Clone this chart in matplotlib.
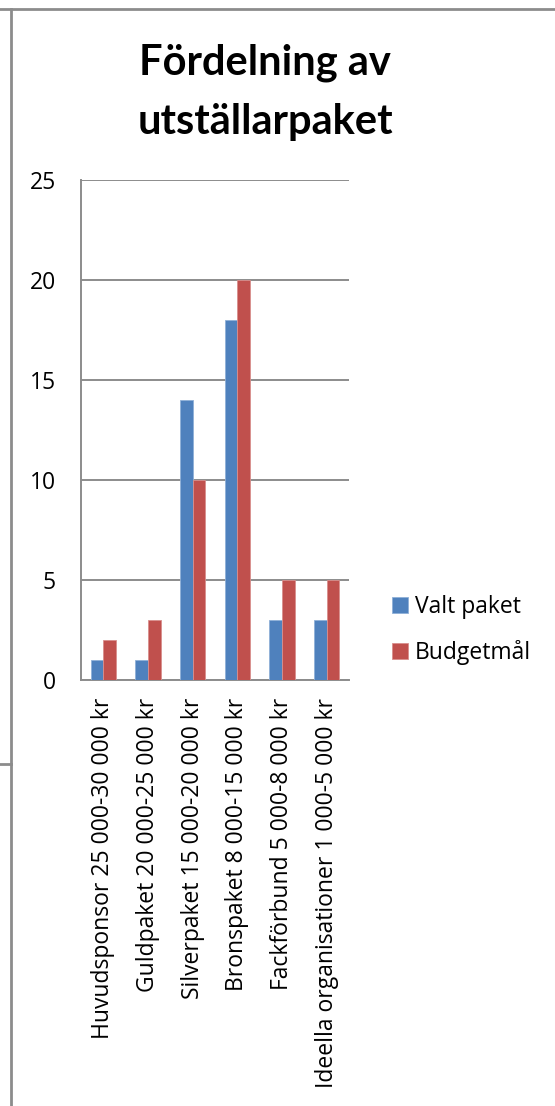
import numpy as np
import matplotlib.pyplot as plt
from matplotlib.lines import Line2D

# Data
kategorier = ['Huvudsponsor 25 000-30 000 kr', 'Guldpaket 20 000-25 000 kr',
              'Silverpaket 15 000-20 000 kr', 'Bronspaket 8 000-15 000 kr',
              'Fackförbund 5 000-8 000 kr', 'Ideella organisationer 1 000-5 000 kr']
valt_paket = [1, 1, 14, 18, 3, 3]
budgetmal = [2, 3, 10, 20, 5, 5]
yticks = [0, 5, 10, 15, 20, 25]

plt.rcParams['font.family'] = ['Open Sans', 'DejaVu Sans']

W, H = 555, 1106
fig = plt.figure(figsize=(W / 100, H / 100), dpi=100)
ax = fig.add_axes([81 / W, 1 - 680 / H, 268 / W, 500 / H])

x = np.arange(len(kategorier))
bw = 1 / 3.5
ax.bar(x - bw / 2, valt_paket, bw, color='#4F81BD', edgecolor='#8fb0d8', linewidth=0.6,
       label='Valt paket', zorder=3)
ax.bar(x + bw / 2, budgetmal, bw, color='#C0504D', edgecolor='#d98f8d', linewidth=0.6,
       label='Budgetmål', zorder=3)

ax.set_xlim(-0.5, len(kategorier) - 0.5)
ax.set_ylim(0, 25)
ax.set_yticks(yticks)
ax.yaxis.grid(True, color='#8c8c8c', linewidth=1.4, zorder=0)
ax.set_xticks(x)
ax.set_xticklabels(kategorier, rotation=90, va='top', ha='center')
ax.tick_params(axis='y', length=0, pad=18, labelsize=16.5)
ax.tick_params(axis='x', length=0, pad=13, labelsize=16.5)
for s in ['top', 'right']:
    ax.spines[s].set_visible(False)
for s in ['left', 'bottom']:
    ax.spines[s].set_color('#8c8c8c')
    ax.spines[s].set_linewidth(1.4)

leg = ax.legend(loc='center left', bbox_to_anchor=(371 / W, 1 - 630 / H),
                bbox_transform=fig.transFigure, frameon=False, fontsize=16.5,
                handlelength=0.7, handleheight=0.7, handletextpad=0.3,
                labelspacing=0.95)

fig.text(265 / W, 1 - 75 / H, 'Fördelning av', ha='center', va='baseline',
         fontsize=30, fontweight='bold', family='Lato')
fig.text(265 / W, 1 - 134 / H, 'utställarpaket', ha='center', va='baseline',
         fontsize=30, fontweight='bold', family='Lato')

# frame lines around the chart
fig.add_artist(Line2D([0, 1], [1 - 9 / H, 1 - 9 / H], color='#8c8c8c', linewidth=2))
fig.add_artist(Line2D([11 / W, 11 / W], [0, 1 - 9 / H], color='#8c8c8c', linewidth=2))
fig.add_artist(Line2D([0, 11 / W], [1 - 764 / H, 1 - 764 / H], color='#8c8c8c', linewidth=2))

fig.savefig('out.png', dpi=100)
